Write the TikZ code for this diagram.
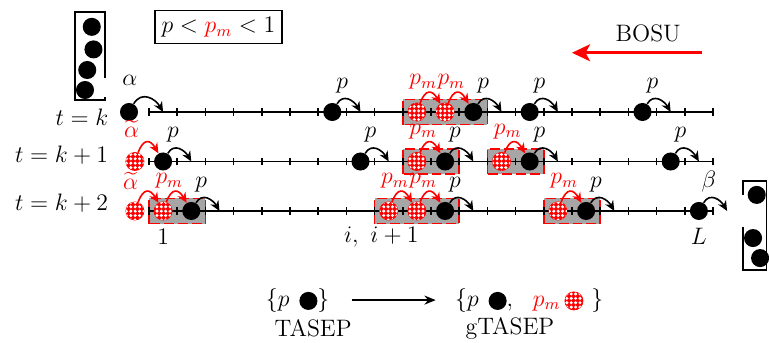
\documentclass[tikz,border=0pt]{standalone}
\usepackage{amsmath,amssymb}
\usepackage{tikz}
\usetikzlibrary{arrows.meta,patterns.meta}

\tikzset{
	hatch/.style={draw=red, fill=red, postaction={pattern={Dots[distance=2.2pt,radius=0.85pt]}, pattern color=white}},
	bpart/.style={circle, fill=black, minimum size=0.32cm, inner sep=0pt},
	hpart/.style={circle, hatch, minimum size=0.32cm, inner sep=0pt},
	hop/.style={-{Stealth[length=1.8mm,width=1.6mm]}, thick},
	mhop/.style={hop, red},
	lab/.style={anchor=base, inner sep=0pt},
	cluster/.style={fill=gray!70, draw=red, thick, dash pattern=on 5pt off 2pt},
}
% hop of a black particle: from, to, rate
\newcommand{\jump}[3]{\draw[hop] (#1) to[out=60,in=120,looseness=1.3] (#2);
	\node[lab] (l#1) at ([shift={(0.35,0.85)}]#1) {$#3$};}
% hop of a hatched particle onto the next one
\newcommand{\mjump}[3]{\draw[mhop] (#1) to[out=70,in=120,looseness=2] (#2);
	\node[lab,red] (l#1) at ([shift={(0.22,0.97)}]#1) {$#3$};}
\newcommand{\bdot}{\tikz[baseline=-0.5ex]\fill (0,0) circle (0.16cm);}
\newcommand{\hdot}{\tikz[baseline=-0.5ex]\path[hatch] (0,0) circle (0.16cm);}

\begin{document}
\begin{tikzpicture}[x=0.5cm, y=0.5cm, every node/.style={font=\large}]
	\useasboundingbox (-5.284,-8.156) rectangle (21.986,3.972);
	% clusters
	\draw[cluster] (9,-0.45) rectangle (12,0.45);
	\draw[cluster] (9,-2.205) rectangle (11,-1.305);
	\draw[cluster] (12,-2.205) rectangle (14,-1.305);
	\draw[cluster] (0,-3.96) rectangle (2,-3.06);
	\draw[cluster] (8,-3.96) rectangle (11,-3.06);
	\draw[cluster] (14,-3.96) rectangle (16,-3.06);
	% lattices
	\foreach \y in {0,-1.755,-3.51} {
		\draw[thick] (0,\y) -- (20,\y);
		\foreach \j in {0,...,20} \draw[thick] (\j,\y-0.14) -- (\j,\y+0.14);
	}
	\foreach \j in {0,...,21} {
		\coordinate (A\j) at (\j-0.5,0);
		\coordinate (B\j) at (\j-0.5,-1.755);
		\coordinate (C\j) at (\j-0.5,-3.51);
	}
	\node[anchor=east] (tk) at (-1.2,-0.18) {$t=k$};
	\node[anchor=east] (tk1) at (-1.2,-1.52) {$t=k+1$};
	\node[anchor=east] (tk2) at (-1.2,-3.23) {$t=k+2$};

	% t = k
	\node[bpart] (a0) at (-0.71,0) {};
	\node[bpart] (a7) at (A7) {};
	\node[hpart] (a10) at (A10) {};
	\node[hpart] (a11) at (A11) {};
	\node[bpart] (a12) at (A12) {};
	\node[bpart] (a14) at (A14) {};
	\node[bpart] (a18) at (A18) {};
	\draw[hop] (a0) to[out=60,in=120,looseness=1.3] (A1);
	\node[lab] (la0) at ([shift={(0.03,0.95)}]a0) {$\alpha$};
	\jump{a7}{A8}{p}
	\mjump{a10}{a11}{p_m}
	\mjump{a11}{a12}{p_m}
	\jump{a12}{A13}{p}
	\jump{a14}{A15}{p}
	\jump{a18}{A19}{p}

	% t = k+1
	\node[hpart] (b0) at (B0) {};
	\node[bpart] (b1) at (B1) {};
	\node[bpart] (b8) at (B8) {};
	\node[hpart] (b10) at (B10) {};
	\node[bpart] (b11) at (B11) {};
	\node[hpart] (b13) at (B13) {};
	\node[bpart] (b14) at (B14) {};
	\node[bpart] (b19) at (B19) {};
	\draw[mhop] (b0) to[out=70,in=120,looseness=2] (b1);
	\node[lab,red] (lb0) at ([shift={(-0.12,0.85)}]b0) {$\widetilde{\alpha}$};
	\jump{b1}{B2}{p}
	\jump{b8}{B9}{p}
	\mjump{b10}{b11}{p_m}
	\jump{b11}{B12}{p}
	\mjump{b13}{b14}{p_m}
	\jump{b14}{B15}{p}
	\jump{b19}{B20}{p}

	% t = k+2
	\node[hpart] (c0) at (C0) {};
	\node[hpart] (c1) at (C1) {};
	\node[bpart] (c2) at (C2) {};
	\node[hpart] (c9) at (C9) {};
	\node[hpart] (c10) at (C10) {};
	\node[bpart] (c11) at (C11) {};
	\node[hpart] (c15) at (C15) {};
	\node[bpart] (c16) at (C16) {};
	\node[bpart] (c20) at (C20) {};
	\draw[mhop] (c0) to[out=70,in=120,looseness=2] (c1);
	\node[lab,red] (lc0) at ([shift={(-0.15,0.75)}]c0) {$\widetilde{\alpha}$};
	\mjump{c1}{c2}{p_m}
	\jump{c2}{C3}{p}
	\mjump{c9}{c10}{p_m}
	\mjump{c10}{c11}{p_m}
	\jump{c11}{C12}{p}
	\mjump{c15}{c16}{p_m}
	\jump{c16}{C17}{p}
	\jump{c20}{C21}{\beta}
	\node (n1) at (0.5,-4.42) {$1$};
	\node (ni) at (8.24,-4.42) {$i,\ i+1$};
	\node (nL) at (19.5,-4.42) {$L$};

	% reservoirs
	\draw[thick] (-1.56,1.21) -- (-1.56,3.55) -- (-2.62,3.55) -- (-2.62,0.43) -- (-1.56,0.43) -- (-1.56,0.53);
	\node[bpart] (lr1) at (-2.03,3.02) {};
	\node[bpart] (lr2) at (-1.97,2.22) {};
	\node[bpart] (lr3) at (-2.19,1.49) {};
	\node[bpart] (lr4) at (-2.27,0.78) {};
	\draw[thick] (21.06,-2.94) -- (21.06,-2.44) -- (21.9,-2.44) -- (21.9,-5.6) -- (21.06,-5.6) -- (21.06,-4.07);
	\node[bpart] (rr1) at (21.55,-2.94) {};
	\node[bpart] (rr2) at (21.42,-4.47) {};
	\node[bpart] (rr3) at (21.67,-5.18) {};

	% top
	\node[draw, thick] (cond) at (2.46,3.01) {$p < {\color{red}p_m} < 1$};
	\node (bosu) at (17.7,2.8) {BOSU};
	\coordinate (bs) at (19.6,2.1);
	\coordinate (be) at (15.0,2.1);
	\draw[red, line width=1.3pt, -{Stealth[length=3.2mm,width=3mm,inset=0.8mm]}] (bs) -- (be);

	% bottom
	\node (setA) at (5.27,-6.67) {$\{p$\hspace{5pt}\bdot$\}$};
	\node (setB) at (13.48,-6.67) {$\{p$\hspace{5pt}\bdot$,$\hspace{10pt}$\color{red}p_m$\hspace{2pt}\hdot\hspace{4pt}$\}$};
	\draw[-{Stealth[length=2mm,width=1.6mm]}, thick, shorten <=0.27cm, shorten >=0.22cm] (setA) -- (setB);
	\node (tasep) at (5.82,-7.66) {TASEP};
	\node (gtasep) at (12.8,-7.66) {gTASEP};
\end{tikzpicture}
\end{document}
